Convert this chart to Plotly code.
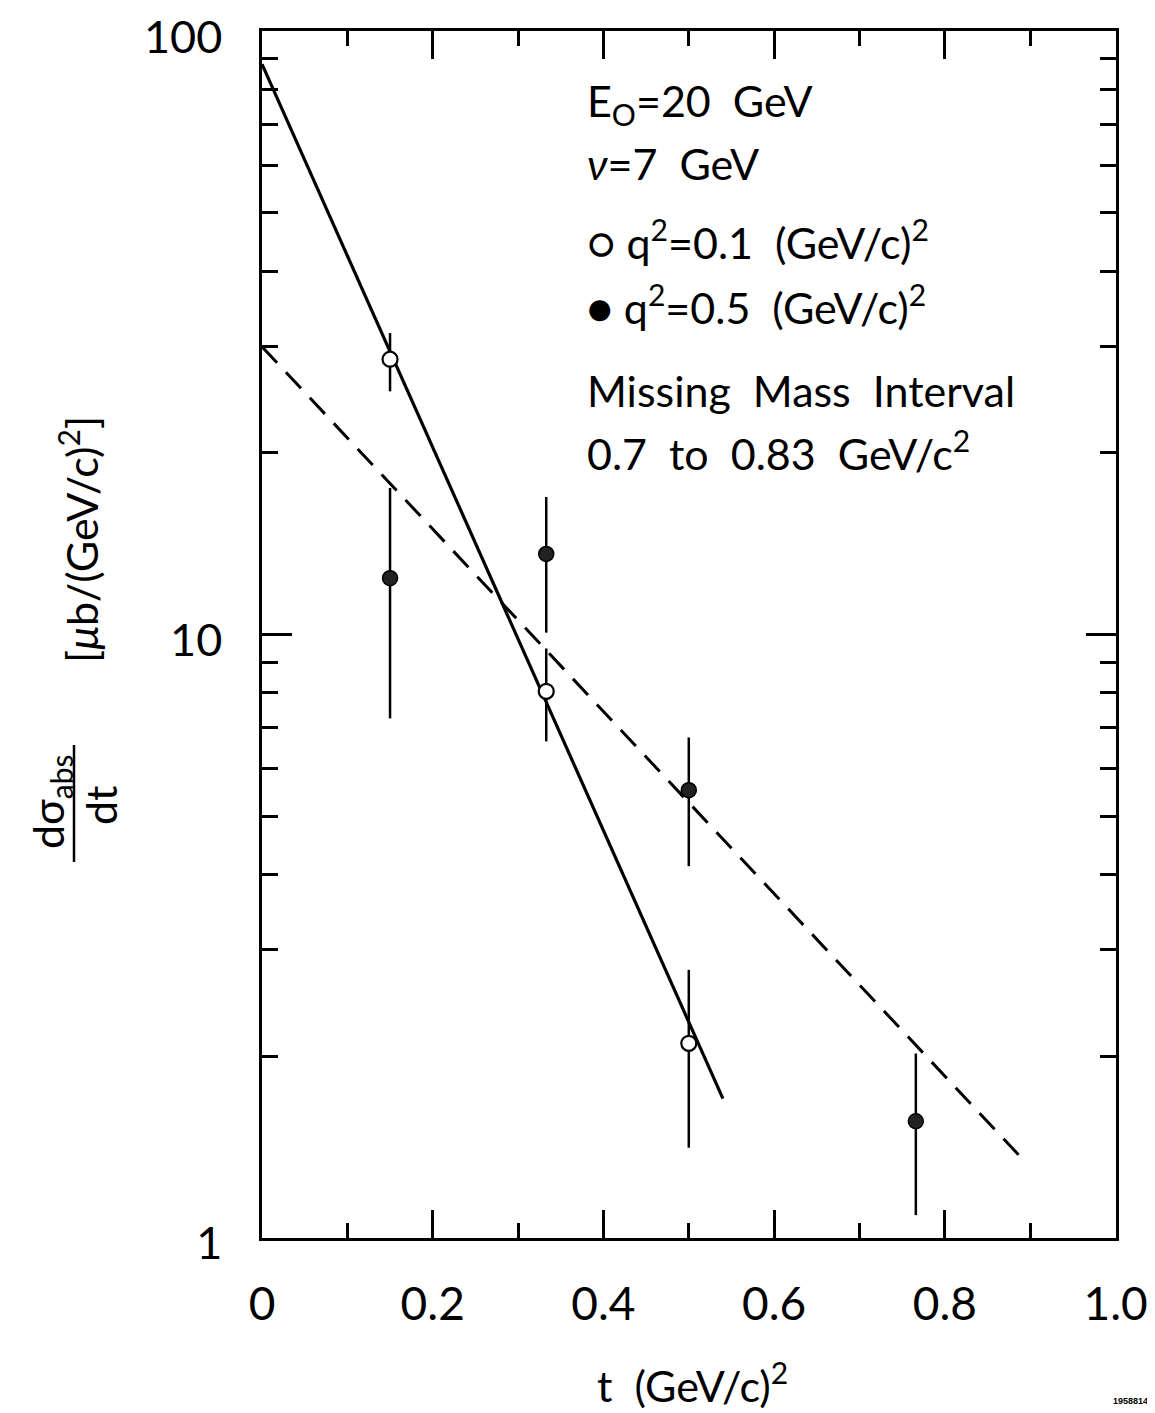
import plotly.graph_objects as go

# ---- data ----
t_open = [0.15, 0.333, 0.5]
y_open = [28.6, 8.05, 2.10]
y_open_hi = [31.6, 9.48, 2.78]
y_open_lo = [25.3, 6.65, 1.41]

t_fill = [0.15, 0.333, 0.5, 0.766]
y_fill = [12.4, 13.6, 5.52, 1.56]
y_fill_hi = [17.5, 16.9, 6.75, 2.02]
y_fill_lo = [7.26, 10.07, 4.13, 1.09]

fit_open_t = [0.0, 0.540]
fit_open_y = [88.2, 1.70]
fit_fill_t = [0.0, 0.891]
fit_fill_y = [30.0, 1.35]

x_ticks = [0, 0.2, 0.4, 0.6, 0.8, 1.0]
x_ticktext = ["0", "0.2", "0.4", "0.6", "0.8", "1.0"]
x_minor = [0.1, 0.3, 0.5, 0.7, 0.9]
y_ticks = [1, 10, 100]
y_ticktext = ["1", "10", "100"]
y_minor = [2, 3, 4, 5, 6, 7, 8, 9, 20, 30, 40, 50, 60, 70, 80, 90]

FONT = "Lato"

fig = go.Figure()

# fitted lines
fig.add_trace(go.Scatter(x=fit_open_t, y=fit_open_y, mode="lines",
                         line=dict(color="black", width=3.2), showlegend=False))
fig.add_trace(go.Scatter(x=fit_fill_t, y=fit_fill_y, mode="lines",
                         line=dict(color="black", width=3, dash="22px,13px"), showlegend=False))

# data points with error bars
fig.add_trace(go.Scatter(
    x=t_fill, y=y_fill, mode="markers",
    marker=dict(symbol="circle", size=15, color="#222", line=dict(color="black", width=1.5)),
    error_y=dict(type="data", symmetric=False,
                 array=[h - v for h, v in zip(y_fill_hi, y_fill)],
                 arrayminus=[v - l for v, l in zip(y_fill, y_fill_lo)],
                 color="black", thickness=2.5, width=0),
    showlegend=False))
fig.add_trace(go.Scatter(
    x=t_open, y=y_open, mode="markers",
    marker=dict(symbol="circle", size=15, color="white", line=dict(color="black", width=2.2)),
    error_y=dict(type="data", symmetric=False,
                 array=[h - v for h, v in zip(y_open_hi, y_open)],
                 arrayminus=[v - l for v, l in zip(y_open, y_open_lo)],
                 color="black", thickness=2.5, width=0),
    showlegend=False))

fig.update_xaxes(
    range=[0, 1.0005], showline=True, linecolor="black", linewidth=2.5, mirror="ticks",
    ticks="inside", ticklen=28, tickwidth=2.5, tickcolor="black",
    tickmode="array", tickvals=x_ticks, ticktext=x_ticktext,
    tickfont=dict(family=FONT, size=46, color="black"),
    ticklabelstandoff=24, automargin=False, ticklabeloverflow="allow",
    minor=dict(ticks="inside", ticklen=15, tickwidth=2.5, tickcolor="black",
               tickmode="array", tickvals=x_minor, showgrid=False),
    showgrid=False, zeroline=False)
fig.update_yaxes(
    type="log", range=[-0.0005, 2.0005], showline=True, linecolor="black", linewidth=2.5,
    mirror="ticks",
    ticks="inside", ticklen=30, tickwidth=2.5, tickcolor="black",
    tickmode="array", tickvals=y_ticks, ticktext=y_ticktext,
    tickfont=dict(family=FONT, size=45, color="black"),
    ticklabelstandoff=28, ticklabelshift=6, automargin=False, ticklabeloverflow="allow",
    minor=dict(ticks="inside", ticklen=16, tickwidth=2.5, tickcolor="black",
               tickmode="array", tickvals=y_minor, showgrid=False),
    showgrid=False, zeroline=False)

# the page places the figure 8px in from the top-left corner
OFF = 8
W, H = 1155 - OFF, 1413 - OFF
L, R, T, B = 262 - OFF, 1116 - OFF, 31 - OFF, 1238 - OFF


def px(xp):
    return (xp - OFF - L) / (R - L)


def py(yp):
    return (B - (yp - OFF)) / (B - T)


tf = dict(family=FONT, size=43, color="black")
block = [
    ("E<sub>O</sub>=20  GeV", 103),
    ("<i>ν</i>=7  GeV", 163),
    ("○ q<sup>2</sup>=0.1  (GeV/c)<sup>2</sup>", 240),
    ("● q<sup>2</sup>=0.5  (GeV/c)<sup>2</sup>", 304),
    ("Missing  Mass  Interval", 390),
    ("0.7  to  0.83  GeV/c<sup>2</sup>", 450),
]
for txt, yy in block:
    fig.add_annotation(text=txt, xref="paper", yref="paper", x=px(585), y=py(yy),
                       xanchor="left", yanchor="middle", showarrow=False, font=tf)

# axis titles
fig.add_annotation(text="t  (GeV/c)<sup>2</sup>", xref="paper", yref="paper",
                   x=px(692), y=py(1382), xanchor="center", yanchor="middle",
                   showarrow=False, font=tf)
fig.add_annotation(text="[<i>μ</i>b/(GeV/c)<sup>2</sup>]", xref="paper", yref="paper",
                   x=px(78), y=py(540), xanchor="center", yanchor="middle",
                   textangle=-90, showarrow=False, font=tf)
fig.add_annotation(text="dσ<sub>abs</sub>", xref="paper", yref="paper",
                   x=px(50), y=py(802), xanchor="center", yanchor="middle",
                   textangle=-90, showarrow=False, font=tf)
fig.add_annotation(text="dt", xref="paper", yref="paper",
                   x=px(100), y=py(805), xanchor="center", yanchor="middle",
                   textangle=-90, showarrow=False, font=tf)
fig.add_shape(type="line", xref="paper", yref="paper",
              x0=px(74), x1=px(74), y0=py(745), y1=py(862),
              line=dict(color="black", width=2.5))

fig.add_annotation(text="<b>1958814</b>", xref="paper", yref="paper",
                   x=px(1150), y=py(1401), xanchor="right", yanchor="middle",
                   showarrow=False,
                   font=dict(family="Liberation Sans Narrow, Liberation Sans", size=9, color="black"))

fig.update_layout(
    width=W, height=H,
    margin=dict(l=L, r=W - R, t=T, b=H - B, autoexpand=False),
    paper_bgcolor="white", plot_bgcolor="white",
    showlegend=False,
)

fig.write_html("out.html")
